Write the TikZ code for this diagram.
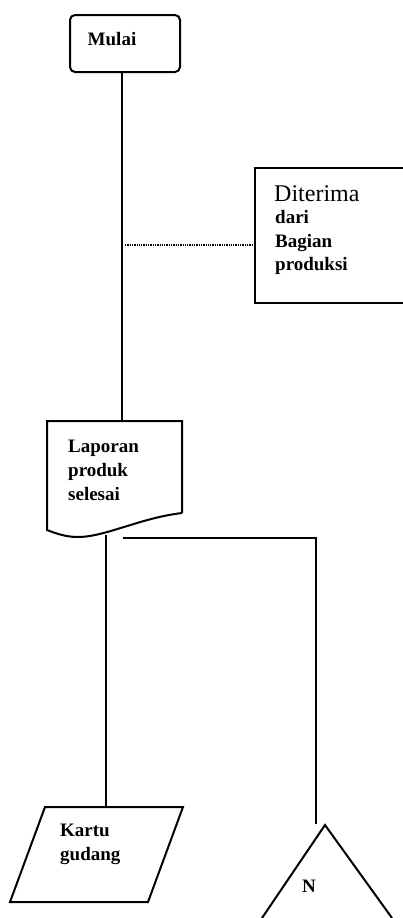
\documentclass[tikz,border=0pt]{standalone}
\usepackage{fontspec}
\setmainfont{Liberation Serif}
\usetikzlibrary{calc}
\tikzset{
  flow/.style={line width=2pt, line join=miter},
  dotline/.style={line width=1.3pt, densely dotted},
  lbl/.style={anchor=base west, inner sep=0pt, font=\fontsize{19}{22}\selectfont\bfseries},
  biglbl/.style={anchor=base west, inner sep=0pt, font=\fontsize{24}{27}\selectfont},
  frame/.style={inner sep=0pt, outer sep=0pt},
}
\begin{document}
\begin{tikzpicture}[x=1pt,y=-1pt]
\useasboundingbox (0,0) rectangle (403,918);
\clip (0,0) rectangle (403,918);

% start terminal
\node[frame, flow, draw, rounded corners=5pt, minimum width=110pt, minimum height=57pt] (mulai) at (125,43.5) {};
\node[lbl, anchor=base] (mulaitxt) at (112,45) {Mulai};

% trunk position
\coordinate (trunk) at (122,0);

% external source box (open to the right)
\node[frame, minimum width=160pt, minimum height=135pt] (src) at (335,235.5) {};
\draw[flow] (src.north east) -- (src.north west) -- (src.south west) -- (src.south east);
\node[biglbl] (srcA) at (274,201) {Diterima};
\node[lbl] (srcB) at (275,223) {dari};
\node[lbl] (srcC) at (275,247) {Bagian};
\node[lbl] (srcD) at (275,270) {produksi};

% document
\node[frame, minimum width=135pt, minimum height=109pt] (doc) at (114.5,475.5) {};
\draw[flow] ($(doc.north east)+(0,92)$) -- (doc.north east) -- (doc.north west) -- (doc.south west)
  .. controls (55,533) and (65,537) .. (78,537)
  .. controls (105,537) and (140,518) .. ($(doc.north east)+(0,92)$);
\node[lbl] (docA) at (68,452) {Laporan};
\node[lbl] (docB) at (68,476) {produk};
\node[lbl] (docC) at (68,500) {selesai};

% card record (parallelogram)
\coordinate (kt) at (114,807);
\draw[flow] (45,807) -- (183,807) -- (148,902) -- (10,902) -- cycle;
\node[lbl] (kA) at (60,836) {Kartu};
\node[lbl] (kB) at (60,860) {gudang};

% off-line file (triangle)
\coordinate (nt) at (325,825);
\draw[flow] (262,918) -- (nt) -- (392,918);
\node[lbl, anchor=base] (nA) at (309,892) {N};

% connectors
\draw[flow] (mulai.south -| trunk) -- (doc.north -| trunk);
\coordinate (tap) at (125,245);
\draw[dotline] (tap) -- (src.west |- tap);
\coordinate (stemtop) at (106,535);
\draw[flow] (stemtop) -- (stemtop |- kt);
\coordinate (brA) at (123,538);
\coordinate (brB) at (316,538);
\draw[flow] (brA) -- (brB) -- (316,824);
\end{tikzpicture}
\end{document}
